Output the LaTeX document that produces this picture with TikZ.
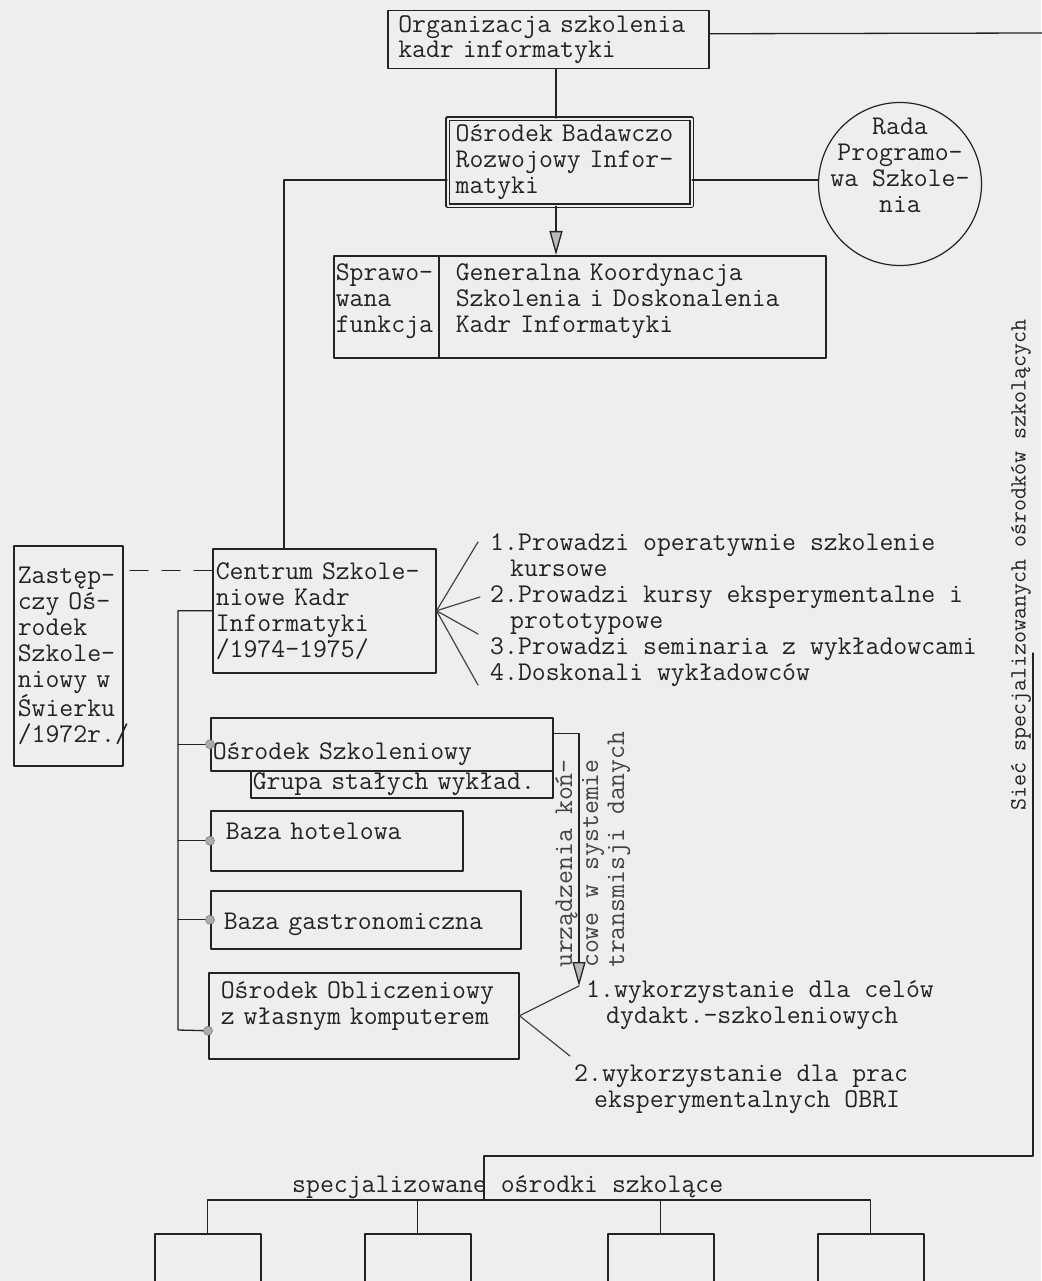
\documentclass[tikz,border=0pt]{standalone}
\usepackage{tikz}
\usetikzlibrary{arrows.meta}
\definecolor{paper}{RGB}{238,238,236}
\definecolor{ink}{RGB}{35,35,35}
\newcommand{\typew}{\ttfamily\fontsize{27}{26}\selectfont}

\begin{document}
\begin{tikzpicture}[x=1pt,y=-1pt,line cap=round,line join=round,
    box/.style={draw=ink,line width=1.5pt,anchor=north west,align=left,inner ysep=2pt,font=\typew,text=ink},
    conn/.style={draw=ink,line width=1.3pt},
    fan/.style={draw=ink!85,line width=1.2pt},
    grayhead/.style={-{Triangle[length=24pt,width=13pt,fill=gray!55]}},
    jointdot/.style={fill=gray!65,draw=ink!60,line width=0.6pt}]
    \def\dotsize{4.5pt}
    \fill[paper] (0,0) rectangle (1041,1281);
    \useasboundingbox (0,0) rectangle (1041,1281);

    % top
    \node[box,font=\ttfamily\fontsize{27}{25}\selectfont,inner xsep=10.5pt,text width=300pt,minimum height=58pt] (org) at (387,10) {Organizacja szkolenia\\kadr informatyki};
    \node[box,line width=1.2pt,double=paper,double distance=2pt,inner xsep=8pt,text width=228pt,minimum height=87pt] (obr) at (447,118) {Ośrodek Badawczo\\Rozwojowy Infor-\\matyki};
    \node[circle,draw=ink,line width=1.2pt,minimum size=163pt,inner sep=-40pt,font=\typew,text=ink,align=center] (rada) at (900,184) {Rada\\Programo-\\wa Szkole-\\nia\\[12pt]\mbox{}};
    \node[box,inner xsep=2pt,text width=101pt,minimum height=102pt] (spraw) at (333,255) {Sprawo-\\wana\\funkcja\\[-8pt]\mbox{}};
    \node[box,inner xsep=17pt,text width=353pt,minimum height=102pt] (koord) at (438,255) {Generalna Koordynacja\\Szkolenia i Doskonalenia\\Kadr Informatyki\\[-8pt]\mbox{}};

    % centrum
    \node[box,inner xsep=3pt,text width=217pt,minimum height=124pt] (cskk) at (212,548) {Centrum Szkole-\\niowe Kadr\\Informatyki\\/1974–1975/};
    \node[box,inner xsep=4pt,text width=101pt,minimum height=220pt] (zast) at (13,545) {Zastęp-\\czy Oś-\\rodek\\Szkole-\\niowy w\\Świerku\\/1972r./};
    \node[font=\typew,text=ink,align=left,anchor=north west,inner sep=0pt] (cslist) at (490,533) {1.Prowadzi operatywnie szkolenie\\\hspace*{20pt}kursowe\\2.Prowadzi kursy eksperymentalne i\\\hspace*{20pt}prototypowe\\3.Prowadzi seminaria z wykładowcami\\4.Doskonali wykładowców};

    % departments
    \node[box,inner xsep=2pt,text width=338pt,minimum height=53pt,text height=36pt,text depth=6pt] (oszk) at (210,717) {Ośrodek Szkoleniowy};
    \node[box,inner xsep=2pt,inner ysep=1pt,text width=298pt,minimum height=27pt] (grupa) at (250,770) {Grupa stałych wykład.};
    \node[box,inner xsep=15pt,text width=222pt,minimum height=60pt,text height=18pt,text depth=20pt] (hotel) at (210,810) {Baza hotelowa};
    \node[box,inner xsep=13pt,text width=284pt,minimum height=58pt,text height=26pt,text depth=6pt] (gastro) at (210,890) {Baza gastronomiczna};
    \node[box,inner xsep=12pt,text width=286pt,minimum height=86pt] (obl) at (208,972) {Ośrodek Obliczeniowy\\z własnym komputerem\\\mbox{}};
    \node[font=\typew,text=ink!85,align=left,rotate=90,anchor=north west,inner sep=0pt] (urz) at (555,968) {urządzenia koń-\\cowe w systemie\\transmisji danych};
    \node[font=\typew,text=ink,align=left,anchor=north west,inner sep=0pt] (obluse) at (586,980) {1.wykorzystanie dla celów\\\hspace*{20pt}dydakt.-szkoleniowych};
    \node[font=\typew,text=ink,align=left,anchor=north west,inner sep=0pt] (oblexp) at (574,1064) {2.wykorzystanie dla prac\\\hspace*{20pt}eksperymentalnych OBRI};

    % network
    \node[font=\ttfamily\fontsize{23.3}{23}\selectfont,text=ink,rotate=90,inner sep=0pt] (siec) at (1021,565) {Sieć specjalizowanych ośrodków szkolących};
    \node[font=\typew,text=ink,anchor=base west,inner sep=0pt] (speclab) at (292,1192) {specjalizowane ośrodki szkolące};
    \foreach \n/\x in {c1/154,c2/364,c3/607,c4/817}
        {\node[box,minimum width=106pt,minimum height=60pt] (\n) at (\x,1233) {};}

    \coordinate (spine) at (556,0);
    \coordinate (lft) at (284,0);
    \coordinate (offpage) at (1045,33);
    \coordinate (tip) at (579,986);
    \coordinate (obltail) at (570,1056);
    \coordinate (busend) at (178,1030);
    \coordinate (sieca) at (1033,653);
    \coordinate (siecb) at (1033,1156);
    \coordinate (bar) at (484,1200);
    \coordinate (f1) at (478,542);
    \coordinate (f2) at (480,597);
    \coordinate (f3) at (478,634);
    \coordinate (f4) at (478,685);

    % connectors
    \draw[conn] ([yshift=6pt]org.east) -- (offpage);
    \draw[conn] (spine |- org.south) -- (spine |- obr.north);
    \draw[conn,grayhead] (spine |- obr.south) -- (spine |- koord.north);
    \draw[conn] ([yshift=-18pt]obr.west) -| (lft |- cskk.north);
    \draw[conn] ([yshift=-18pt]obr.east) -- ([yshift=-18pt]obr.east -| rada.west);
    \draw[conn,dash pattern=on 18pt off 14pt] ([yshift=40pt]cskk.west) -- ([yshift=40pt]cskk.west -| zast.east);
    \foreach \f in {f1,f2,f3,f4} {\draw[fan] (cskk.east) -- (\f);}
    \draw[conn] (cskk.west) -| (busend) -- ([yshift=-15pt]obl.west);
    \foreach \n in {oszk,hotel,gastro} {\draw[conn] (\n.west) -- (\n.west -| busend);}
    \foreach \n in {oszk,hotel,gastro} {\filldraw[jointdot] (\n.west) circle (\dotsize);}
    \filldraw[jointdot] ([yshift=-15pt]obl.west) circle (\dotsize);
    \draw[conn,grayhead] ([yshift=11pt]oszk.east) -| (tip);
    \draw[fan] (obl.east) -- (tip);
    \draw[fan] (obl.east) -- (obltail);
    \draw[conn] (sieca) -- (siecb) -| (bar);
    \draw[conn] (c1.north) |- (bar) -| (c4.north);
    \draw[conn] (c2.north) -- (c2.north |- bar);
    \draw[conn] (c3.north) -- (c3.north |- bar);
\end{tikzpicture}
\end{document}
